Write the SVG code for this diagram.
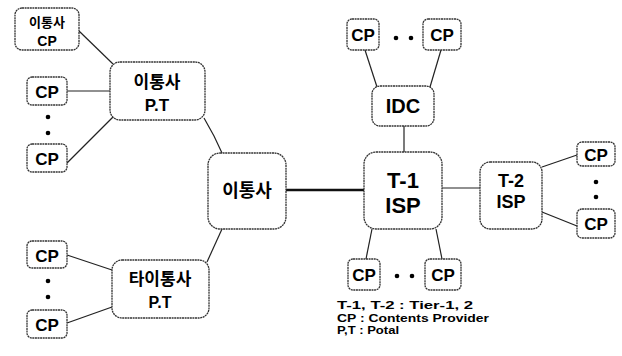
<svg xmlns="http://www.w3.org/2000/svg" width="622" height="356" viewBox="0 0 622 356">
<style>
.box{fill:#fff;stroke:#333;stroke-width:1.3;stroke-dasharray:2 0.6}
.t{font-family:"Noto Sans CJK KR","Liberation Sans",sans-serif;font-weight:bold;fill:#000;text-anchor:middle}
.cp{font-family:"Liberation Sans",Arial,sans-serif;font-weight:900;font-size:17px;fill:#000;text-anchor:middle}
.e{font-family:"Liberation Sans",Arial,sans-serif;font-weight:bold;fill:#000;text-anchor:middle}
.ln{stroke:#222;stroke-width:1.2;fill:none}
.dot{fill:#000}
.lg{font-family:"Liberation Sans",Arial,sans-serif;font-weight:bold;font-size:10.5px;fill:#000}
</style>
<rect width="622" height="356" fill="#fff"/>
<g id="connectors">
<line class="ln" x1="79" y1="31" x2="113" y2="64"/>
<line class="ln" x1="67" y1="91" x2="110" y2="91"/>
<line class="ln" x1="67" y1="163" x2="113" y2="117"/>
<polyline class="ln" points="204,118 214,136 222,153"/>
<line x1="286" y1="190" x2="364" y2="190" stroke="#111" stroke-width="2.6"/>
<line class="ln" x1="404" y1="126" x2="404" y2="152"/>
<line class="ln" x1="365" y1="50" x2="377" y2="87"/>
<line class="ln" x1="441" y1="50" x2="430" y2="87"/>
<line class="ln" x1="372" y1="229" x2="366" y2="259"/>
<line class="ln" x1="436" y1="229" x2="442" y2="259"/>
<line class="ln" x1="442" y1="188" x2="480" y2="188"/>
<line class="ln" x1="542" y1="167" x2="577" y2="155"/>
<line class="ln" x1="542" y1="212" x2="577" y2="226"/>
<line class="ln" x1="207" y1="262" x2="222" y2="229"/>
<line class="ln" x1="67" y1="255" x2="112" y2="270"/>
<line class="ln" x1="67" y1="323" x2="112" y2="307"/>
</g>
<g id="dots">
<circle class="dot" cx="48" cy="117" r="2.3"/>
<circle class="dot" cx="48" cy="133" r="2.3"/>
<circle class="dot" cx="48" cy="281" r="2.3"/>
<circle class="dot" cx="48" cy="297" r="2.3"/>
<circle class="dot" cx="396" cy="38" r="2.3"/>
<circle class="dot" cx="411" cy="38" r="2.3"/>
<circle class="dot" cx="397" cy="276" r="2.3"/>
<circle class="dot" cx="412" cy="276" r="2.3"/>
<circle class="dot" cx="596" cy="182" r="2.3"/>
<circle class="dot" cx="596" cy="197" r="2.3"/>
</g>
<g id="n-mcp">
<rect class="box" x="15" y="8" width="64" height="42" rx="7"/>
<text class="t" x="47" y="27" font-size="13">이통사</text>
<text class="e" x="47" y="46" font-size="14">CP</text>
</g>
<g id="n-mpt">
<rect class="box" x="110" y="62" width="95" height="58" rx="10"/>
<text class="t" x="157" y="88" font-size="17">이통사</text>
<text class="e" x="157" y="111" font-size="17">P.T</text>
</g>
<g id="n-cp1">
<rect class="box" x="27" y="77" width="40" height="28" rx="5"/>
<text class="cp" x="47" y="98">CP</text>
</g>
<g id="n-cp2">
<rect class="box" x="27" y="144" width="40" height="28" rx="5"/>
<text class="cp" x="47" y="165">CP</text>
</g>
<g id="n-center">
<rect class="box" x="208" y="153" width="78" height="76" rx="12"/>
<text class="t" x="247" y="197" font-size="18">이통사</text>
</g>
<g id="n-t1">
<rect class="box" x="364" y="152" width="78" height="77" rx="12"/>
<text class="e" x="403" y="188" font-size="22">T-1</text>
<text class="e" x="403" y="213" font-size="22">ISP</text>
</g>
<g id="n-idc">
<rect class="box" x="372" y="86" width="62" height="40" rx="8"/>
<text class="e" x="403" y="113" font-size="20">IDC</text>
</g>
<g id="n-cpt1">
<rect class="box" x="347" y="19" width="32" height="31" rx="5"/>
<text class="cp" x="363" y="41">CP</text>
</g>
<g id="n-cpt2">
<rect class="box" x="423" y="19" width="38" height="31" rx="5"/>
<text class="cp" x="442" y="41">CP</text>
</g>
<g id="n-cpb1">
<rect class="box" x="348" y="259" width="32" height="31" rx="5"/>
<text class="cp" x="364" y="281">CP</text>
</g>
<g id="n-cpb2">
<rect class="box" x="425" y="259" width="36" height="31" rx="5"/>
<text class="cp" x="443" y="281">CP</text>
</g>
<g id="n-t2">
<rect class="box" x="480" y="162" width="62" height="67" rx="10"/>
<text class="e" x="511" y="187" font-size="18">T-2</text>
<text class="e" x="511" y="208" font-size="18">ISP</text>
</g>
<g id="n-cpr1">
<rect class="box" x="577" y="142" width="38" height="24" rx="5"/>
<text class="cp" x="596" y="161">CP</text>
</g>
<g id="n-cpr2">
<rect class="box" x="577" y="209" width="38" height="29" rx="5"/>
<text class="cp" x="596" y="230">CP</text>
</g>
<g id="n-opt">
<rect class="box" x="112" y="260" width="97" height="58" rx="10"/>
<text class="t" x="160" y="285" font-size="17">타이통사</text>
<text class="e" x="160" y="308" font-size="16">P.T</text>
</g>
<g id="n-cp3">
<rect class="box" x="27" y="241" width="40" height="27" rx="5"/>
<text class="cp" x="47" y="262">CP</text>
</g>
<g id="n-cp4">
<rect class="box" x="27" y="310" width="40" height="28" rx="5"/>
<text class="cp" x="47" y="331">CP</text>
</g>
<g id="legend">
<text class="lg" x="337" y="309" textLength="136" lengthAdjust="spacingAndGlyphs">T-1, T-2 : Tier-1, 2</text>
<text class="lg" x="337" y="321.5" textLength="152" lengthAdjust="spacingAndGlyphs">CP : Contents Provider</text>
<text class="lg" x="337" y="334" textLength="62" lengthAdjust="spacingAndGlyphs">P,T : Potal</text>
</g>
</svg>
